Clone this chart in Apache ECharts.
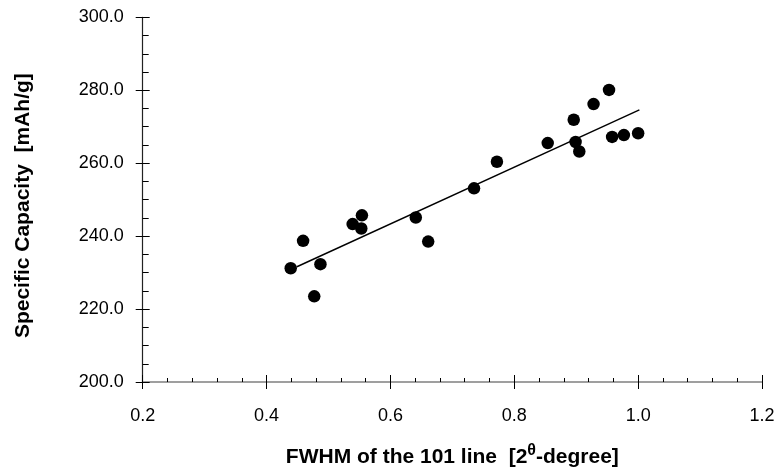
<!DOCTYPE html>
<html>
<head>
<meta charset="utf-8">
<script src="https://cdn.jsdelivr.net/npm/echarts@6/dist/echarts.min.js"></script>
<style>
html,body{margin:0;padding:0;background:#fff;}
#chart{width:781px;height:474px;}
</style>
</head>
<body>
<div id="chart"></div>
<script>
// FWHM of the 101 line [2θ-degree]
const fwhm = [0.439, 0.459, 0.477, 0.487, 0.539, 0.553, 0.554, 0.641, 0.661, 0.735,
              0.772, 0.854, 0.896, 0.899, 0.905, 0.928, 0.953, 0.958, 0.977, 1.000];
// Specific capacity [mAh/g]
const capacity = [231.2, 238.7, 223.5, 232.3, 243.3, 242.1, 245.7, 245.1, 238.5, 253.1,
                  260.4, 265.5, 271.9, 265.8, 263.2, 276.2, 280.1, 267.2, 267.7, 268.2];
// Linear fit line end points
const fitX = [0.449, 1.002];
const fitY = [231.6, 274.6];
// Axis ranges / ticks
const xTicks = [0.2, 0.4, 0.6, 0.8, 1.0, 1.2];
const yTicks = [200, 220, 240, 260, 280, 300];

const font = 'Liberation Sans, Arial, Helvetica, sans-serif';
const chart = echarts.init(document.getElementById('chart'), null, {renderer: 'canvas'});

const xBase = {
  type: 'value', min: xTicks[0], max: xTicks[xTicks.length - 1], interval: 0.2,
  splitLine: {show: false}
};
const yBase = {
  type: 'value', min: yTicks[0], max: yTicks[yTicks.length - 1], interval: 20,
  splitLine: {show: false}
};

chart.setOption({
  animation: false,
  backgroundColor: '#ffffff',
  grid: {left: 142.7, right: 19, top: 17.3, bottom: 88.3, containLabel: false},
  xAxis: [
    Object.assign({}, xBase, {
      position: 'bottom',
      axisLine: {show: true, onZero: false, lineStyle: {color: '#808080', width: 1.5}},
      axisTick: {show: true, inside: false, length: 7, lineStyle: {color: '#000', width: 1}},
      minorTick: {show: false},
      axisLabel: {show: true, margin: 25, fontSize: 18, color: '#000', fontFamily: font,
                  formatter: v => v.toFixed(1)},
      name: '{b|FWHM of the 101 line  [2}{s|θ}{b|-degree]}',
      nameLocation: 'middle', nameGap: 61,
      nameTextStyle: {
        rich: {
          b: {fontSize: 21, fontWeight: 'bold', color: '#000', fontFamily: font, verticalAlign: 'bottom', lineHeight: 25},
          s: {fontSize: 16, fontWeight: 'bold', color: '#000', fontFamily: font, verticalAlign: 'top', padding: [0, 0, 10, 0], lineHeight: 25}
        }
      }
    }),
    Object.assign({}, xBase, {
      position: 'bottom', gridIndex: 0,
      axisLine: {show: false, onZero: false},
      axisTick: {show: true, inside: true, length: 7, lineStyle: {color: '#000', width: 1}},
      minorTick: {show: true, splitNumber: 5, length: 4, lineStyle: {color: '#000', width: 1}},
      axisLabel: {show: false}
    })
  ],
  yAxis: [
    Object.assign({}, yBase, {
      position: 'left',
      axisLine: {show: true, onZero: false, lineStyle: {color: '#222', width: 1.2}},
      axisTick: {show: true, inside: false, length: 7, lineStyle: {color: '#000', width: 1}},
      minorTick: {show: false},
      axisLabel: {show: true, margin: 19, fontSize: 18, color: '#000', fontFamily: font,
                  formatter: v => v.toFixed(1)},
      name: 'Specific Capacity  [mAh/g]',
      nameLocation: 'middle', nameGap: 109, nameRotate: 90,
      nameTextStyle: {fontSize: 21, fontWeight: 'bold', color: '#000', fontFamily: font,
                      padding: [0, 12, 0, 0]}
    }),
    Object.assign({}, yBase, {
      position: 'left',
      axisLine: {show: false, onZero: false},
      axisTick: {show: true, inside: true, length: 7, lineStyle: {color: '#000', width: 1}},
      minorTick: {show: true, splitNumber: 4, length: 6, lineStyle: {color: '#000', width: 1}},
      axisLabel: {show: false}
    })
  ],
  series: [
    {
      type: 'line',
      xAxisIndex: 0, yAxisIndex: 0,
      data: fitX.map((x, i) => [x, fitY[i]]),
      showSymbol: false, symbol: 'none',
      lineStyle: {color: '#000', width: 1.4},
      z: 3, silent: true
    },
    {
      type: 'scatter',
      xAxisIndex: 0, yAxisIndex: 0,
      data: fwhm.map((x, i) => [x, capacity[i]]),
      symbol: 'circle', symbolSize: 12.5,
      itemStyle: {color: '#000', opacity: 1},
      z: 4, silent: true
    }
  ]
});
</script>
</body>
</html>
